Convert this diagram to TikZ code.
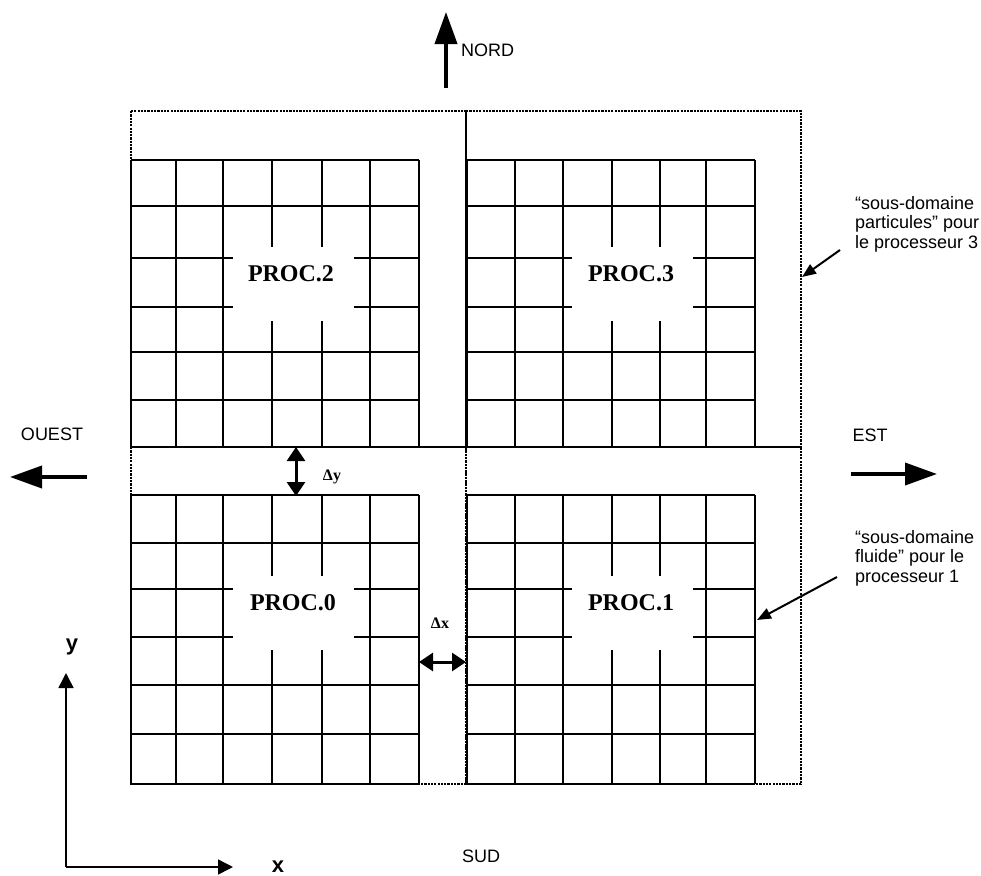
\documentclass[tikz,border=0pt]{standalone}
\usepackage{fontspec}
\setmainfont{Liberation Serif}
\newfontfamily\arialf{Liberation Sans}
\usetikzlibrary{arrows.meta}
\begin{document}
\begin{tikzpicture}[x=1bp,y=-1bp,
  gridline/.style={line width=1.4bp, black},
  domainbox/.style={line width=2.2bp, dash pattern=on 2.2bp off 1.1bp},
  procbox/.style={fill=white, draw=none, inner sep=0, minimum width=121bp, minimum height=74bp},
  proclabel/.style={font=\fontsize{24bp}{26bp}\selectfont\bfseries, inner sep=0},
  dirlabel/.style={font=\arialf\fontsize{18bp}{20bp}\selectfont, inner sep=0},
  notetext/.style={font=\arialf\fontsize{18bp}{19.5bp}\selectfont, inner sep=0, align=left},
  axislabel/.style={font=\arialf\bfseries\fontsize{22bp}{24bp}\selectfont, inner sep=0},
  deltalabel/.style={font=\fontsize{16bp}{18bp}\selectfont\bfseries, inner sep=0},
  bigarrow/.style={line width=3.8bp, -{Triangle[length=32bp,width=22bp]}},
  dblarrow/.style={line width=3bp, {Triangle[length=14bp,width=18bp]}-{Triangle[length=14bp,width=18bp]}},
  notearrow/.style={line width=2bp, -{Triangle[length=14bp,width=11bp]}},
  axisarrow/.style={line width=1.5bp, -{Triangle[length=15bp,width=15bp]}}
]
\useasboundingbox (0,0) rectangle (981,876);

% grids
\foreach \x in {131,176,223,272,322,370,419} {
  \draw[gridline] (\x,160) -- (\x,447);
  \draw[gridline] (\x,495) -- (\x,784);
}
\foreach \x in {467,515,563,612,660,706,755} {
  \draw[gridline] (\x,160) -- (\x,447);
  \draw[gridline] (\x,495) -- (\x,784);
}
\foreach \y in {160,206,258,307,352,400,447} {
  \draw[gridline] (131,\y) -- (419,\y);
  \draw[gridline] (467,\y) -- (755,\y);
}
\foreach \y in {495,543,589,637,685,734,784} {
  \draw[gridline] (131,\y) -- (419,\y);
  \draw[gridline] (467,\y) -- (755,\y);
}

% label cut-outs
\node[procbox] (b2) at (293.5,284) {};
\node[procbox] (b3) at (632.5,284) {};
\node[procbox] (b0) at (293.5,613) {};
\node[procbox] (b1) at (632.5,613) {};
\node[proclabel] (p2) at (291,274) {PROC.2};
\node[proclabel] (p3) at (631,274) {PROC.3};
\node[proclabel] (p0) at (293,603) {PROC.0};
\node[proclabel] (p1) at (631,603) {PROC.1};

% particle sub-domains
\draw[domainbox] (131,111) rectangle (466,447);
\draw[domainbox] (466,111) rectangle (801,447);
\draw[domainbox] (131,447) rectangle (466,784);
\draw[domainbox] (466,447) rectangle (801,784);

% directions
\coordinate (ntail) at (446,88);
\coordinate (nhead) at (446,12);
\draw[bigarrow] (ntail) -- (nhead);
\node[dirlabel, anchor=west] (nord) at (461,50) {NORD};

\coordinate (otail) at (87,477);
\coordinate (ohead) at (10,477);
\draw[bigarrow] (otail) -- (ohead);
\node[dirlabel] (ouest) at (52,434) {OUEST};

\coordinate (etail) at (851,474);
\coordinate (ehead) at (937,474);
\draw[bigarrow] (etail) -- (ehead);
\node[dirlabel] (est) at (870,435) {EST};

\node[dirlabel] (sud) at (481,856) {SUD};

% spacings
\coordinate (dyA) at (296,447);
\coordinate (dyB) at (296,496);
\draw[dblarrow] (dyA) -- (dyB);
\node[deltalabel] (dy) at (332,477) {Δy};

\coordinate (dxA) at (419,662);
\coordinate (dxB) at (466,662);
\draw[dblarrow] (dxA) -- (dxB);
\node[deltalabel] (dx) at (440,623) {Δx};

% annotations
\node[notetext, anchor=north west] (n3) at (855,196) {“sous-domaine\\particules” pour\\le processeur 3};
\coordinate (a3s) at (840,250);
\coordinate (a3e) at (802,277);
\draw[notearrow] (a3s) -- (a3e);

\node[notetext, anchor=north west] (n1) at (855,530) {“sous-domaine\\fluide” pour le\\processeur 1};
\coordinate (a1s) at (837,577);
\coordinate (a1e) at (757,620);
\draw[notearrow] (a1s) -- (a1e);

% axes
\coordinate (orig) at (66,867);
\coordinate (ytip) at (66,673);
\coordinate (xtip) at (233,867);
\draw[axisarrow] (orig) -- (ytip);
\draw[axisarrow] (orig) -- (xtip);
\node[axislabel] (ylab) at (72,647) {y};
\node[axislabel] (xlab) at (278,867) {x};
\end{tikzpicture}
\end{document}
